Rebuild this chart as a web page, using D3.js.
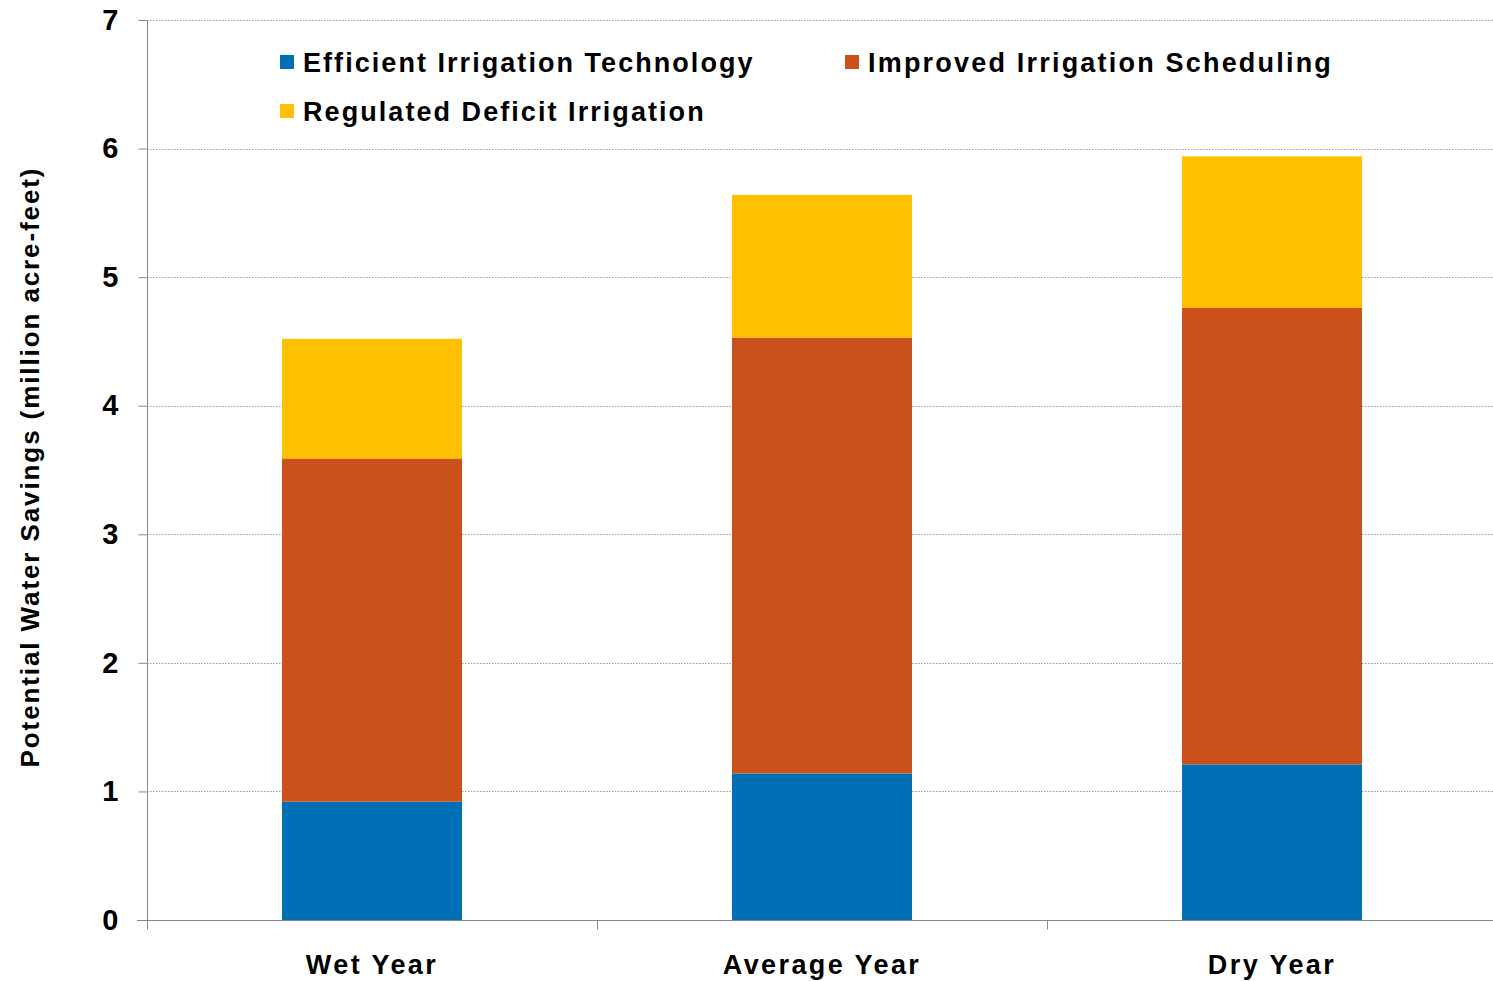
<!DOCTYPE html>
<html>
<head>
<meta charset="utf-8">
<script src="https://cdn.jsdelivr.net/npm/d3@7"></script>
<style>
  body { margin: 0; background: #fff; }
  svg { display: block; font-family: Arial, "Liberation Sans", sans-serif; }
</style>
</head>
<body>
<svg id="chart" width="1493" height="981"></svg>
<script>
const categories = ["Wet Year", "Average Year", "Dry Year"];
const seriesNames = ["Efficient Irrigation Technology", "Improved Irrigation Scheduling", "Regulated Deficit Irrigation"];
const efficientTech = [0.92, 1.14, 1.21];
const improvedScheduling = [2.67, 3.39, 3.55];
const regulatedDeficit = [0.93, 1.11, 1.18];
const yTicks = [0, 1, 2, 3, 4, 5, 6, 7];
const colors = ["#0070B6", "#CC5019", "#FFC000"];

const svg = d3.select("#chart");

const x = d3.scaleBand().domain(categories).range([147, 1497]).paddingInner(0.6).paddingOuter(0.3);
const y = d3.scaleLinear().domain([0, 7]).range([920, 20]);

const table = categories.map((c, i) => ({
  cat: c,
  [seriesNames[0]]: efficientTech[i],
  [seriesNames[1]]: improvedScheduling[i],
  [seriesNames[2]]: regulatedDeficit[i]
}));
const stacked = d3.stack().keys(seriesNames)(table);

// gridlines
svg.append("g").selectAll("line").data(yTicks.filter(d => d > 0)).join("line")
  .attr("x1", 147).attr("x2", 1493)
  .attr("y1", d => Math.round(y(d)) + 0.5).attr("y2", d => Math.round(y(d)) + 0.5)
  .attr("stroke", "#9a9a9a").attr("stroke-width", 1).attr("stroke-dasharray", "1.5,1.5");

// bars
svg.append("g").selectAll("g").data(stacked).join("g")
  .attr("fill", (d, i) => colors[i])
  .selectAll("rect").data(d => d).join("rect")
  .attr("x", d => x(d.data.cat))
  .attr("width", x.bandwidth())
  .attr("y", d => y(d[1]))
  .attr("height", d => y(d[0]) - y(d[1]));

// y axis
const yAxis = svg.append("g").attr("transform", "translate(147.5,0)")
  .call(d3.axisLeft(y).tickValues(yTicks).tickSize(9).tickPadding(20).tickFormat(d3.format("d")));
yAxis.select(".domain").attr("stroke", "#888").attr("d", "M0," + y(7) + "V" + y(0));
yAxis.selectAll(".tick line").attr("stroke", "#888");
yAxis.selectAll(".tick text").attr("font-size", 29).attr("font-weight", "bold").attr("fill", "#000")
  .attr("font-family", "Arial, 'Liberation Sans', sans-serif");

// x axis
const xAxisG = svg.append("g").attr("transform", "translate(0," + (y(0) + 0.5) + ")");
xAxisG.append("line").attr("x1", 137).attr("x2", 1493).attr("stroke", "#888");
const boundaries = [147, 147 + x.step(), 147 + 2 * x.step()];
xAxisG.selectAll("line.tk").data(boundaries).join("line").attr("class", "tk")
  .attr("x1", d => d + 0.5).attr("x2", d => d + 0.5).attr("y1", 0).attr("y2", 9).attr("stroke", "#888");
xAxisG.selectAll("text").data(categories).join("text")
  .attr("x", d => x(d) + x.bandwidth() / 2).attr("y", 53)
  .attr("text-anchor", "middle").attr("font-size", 27).attr("font-weight", "bold").attr("fill", "#000")
  .attr("letter-spacing", 2.4)
  .text(d => d);

// y title
svg.append("text")
  .attr("transform", "translate(39,467) rotate(-90)")
  .attr("text-anchor", "middle").attr("font-size", 26).attr("font-weight", "bold").attr("fill", "#000")
  .attr("letter-spacing", 1.9)
  .text("Potential Water Savings (million acre-feet)");

// legend
const legendPos = [[280, 62], [845, 62], [280, 111]];
const lg = svg.append("g").selectAll("g").data(seriesNames).join("g")
  .attr("transform", (d, i) => "translate(" + legendPos[i][0] + "," + legendPos[i][1] + ")");
lg.append("rect").attr("x", 0).attr("y", -7).attr("width", 14).attr("height", 14).attr("fill", (d, i) => colors[i]);
lg.append("text").attr("x", 23).attr("y", 10).attr("font-size", 27).attr("font-weight", "bold")
  .attr("letter-spacing", (d, i) => [2.05, 2.2, 2.06][i]).attr("fill", "#000").text(d => d);
</script>
</body>
</html>
